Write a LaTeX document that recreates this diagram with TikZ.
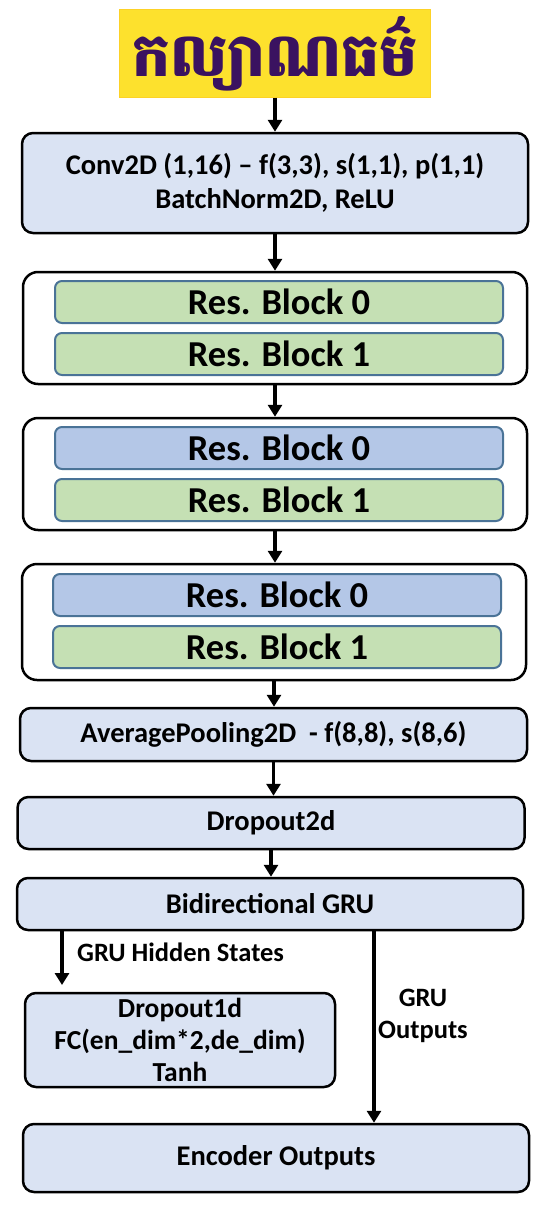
\documentclass[tikz,border=0pt]{standalone}
\usepackage{fontspec}
\setmainfont{Carlito}
\newfontfamily\khmerfont[Script=Khmer]{Battambang}
\usepackage{xcolor}
\usepackage{tikz}
\usetikzlibrary{arrows.meta,positioning}
\definecolor{boxblue}{HTML}{DAE3F3}
\definecolor{resgreen}{HTML}{C5E0B4}
\definecolor{resblue}{HTML}{B4C7E7}
\definecolor{resline}{HTML}{4A7397}
\definecolor{titleyellow}{HTML}{FDE12D}
\definecolor{titlepurple}{HTML}{3A1260}

\begin{document}
\begin{tikzpicture}[x=1pt,y=-1pt,
box/.style={draw=black,line width=2.5pt,rounded corners=11pt,fill=boxblue,inner sep=0pt,align=center,font=\bfseries\fontsize{28.5}{34}\selectfont},
group/.style={draw=black,line width=2.5pt,rounded corners=15pt,fill=white,inner sep=0pt,minimum width=504pt,minimum height=112pt},
res/.style={draw=resline,line width=2pt,rounded corners=7pt,inner sep=0pt,minimum width=448pt,minimum height=42pt,font=\bfseries\fontsize{36.5}{40}\selectfont},
lab/.style={inner sep=0pt,align=center,font=\bfseries\fontsize{26.5}{32}\selectfont},
arr/.style={line width=3.5pt,-{Triangle[width=14pt,length=12pt]}}]
\useasboundingbox (0,0) rectangle (550,1207);
\node[fill=titleyellow,draw=titleyellow!85!orange,line width=1pt,minimum width=311pt,minimum height=87pt,inner sep=0pt,text=titlepurple,font=\khmerfont\bfseries\fontsize{60}{62}\selectfont] (title) at (275,53.5) {កល្យាណធម៌};
\node[box,minimum width=506pt,minimum height=100pt] (conv) at (275,183) {Conv2D (1,16) -- f(3,3), s(1,1), p(1,1)\\BatchNorm2D, ReLU};

\node[group] (g1) at (275,328) {};
\node[res,fill=resgreen] (g1r0) at (279,302) {Res. Block 0};
\node[res,fill=resgreen] (g1r1) at (279,354) {Res. Block 1};

\node[group] (g2) at (275,474) {};
\node[res,fill=resblue] (g2r0) at (279,448) {Res. Block 0};
\node[res,fill=resgreen] (g2r1) at (279,500) {Res. Block 1};

\node[group,minimum height=116pt] (g3) at (274,622) {};
\node[res,fill=resblue] (g3r0) at (277,595) {Res. Block 0};
\node[res,fill=resgreen] (g3r1) at (277,647) {Res. Block 1};

\node[box,minimum width=507pt,minimum height=53pt] (pool) at (273.5,734.5) {AveragePooling2D\ \ - f(8,8), s(8,6)};
\node[box,minimum width=507pt,minimum height=52pt] (drop) at (271,823) {Dropout2d};
\node[box,minimum width=506pt,minimum height=52pt] (gru) at (270,904) {Bidirectional GRU};
\node[box,minimum width=310pt,minimum height=94pt,font=\bfseries\fontsize{27.5}{32}\selectfont] (fc) at (180,1040) {Dropout1d\\FC(en\_dim*2,de\_dim)\\Tanh};
\node[box,minimum width=506pt,minimum height=68pt] (enc) at (276,1158) {Encoder Outputs};

\node[lab,anchor=west] (hidlab) at (77,952) {GRU Hidden States};
\node[lab] (outlab) at (423,1016) {GRU\\Outputs};
\coordinate (hid) at (62,985);
\coordinate (outx) at (374,0);

\draw[arr] (title.south) -- (title.south |- conv.north);
\draw[arr] (conv.south) -- (conv.south |- g1.north);
\draw[arr] (g1.south) -- (g1.south |- g2.north);
\draw[arr] (g2.south) -- (g2.south |- g3.north);
\draw[arr] (g3.south) -- (g3.south |- pool.north);
\draw[arr] (pool.south) -- (pool.south |- drop.north);
\draw[arr] (drop.south) -- (drop.south |- gru.north);
\draw[arr] (hid |- gru.south) -- (hid);
\draw[arr] (outx |- gru.south) -- (outx |- enc.north);
\end{tikzpicture}
\end{document}
